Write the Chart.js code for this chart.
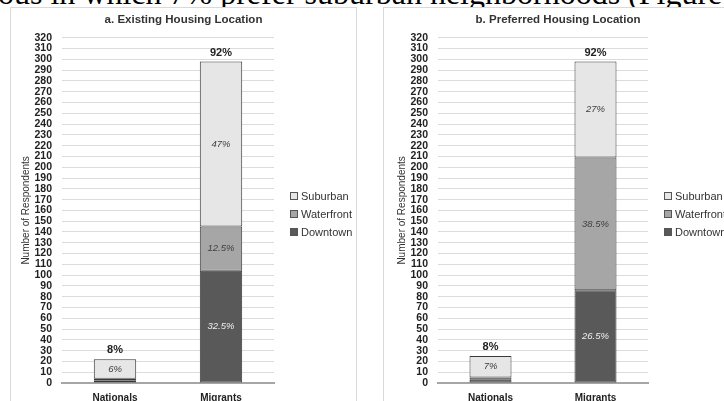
<!DOCTYPE html>
<html>
<head>
<meta charset="utf-8">
<script src="https://cdn.jsdelivr.net/npm/chart.js@4/dist/chart.umd.min.js"></script>
<style>
  html, body { margin: 0; padding: 0; background: #fff; width: 724px; height: 401px; overflow: hidden; position: relative; }
  .doctext { position: absolute; left: -2px; top: -23px; font-family: "Liberation Serif", "Times New Roman", serif; font-size: 32px; line-height: 32px; color: #000; white-space: nowrap; }
  .panel { position: absolute; top: 7px; height: 412px; border: 1px solid #d9d9d9; background: #fff; box-sizing: border-box; }
  .panel canvas { position: absolute; left: 0; top: 0; }
</style>
</head>
<body>
<div class="doctext">ous in which 7% prefer suburban neighborhoods (Figure</div>
<div class="panel" id="p1" style="left:10px; width:347px;"><canvas id="c1" width="345" height="403"></canvas></div>
<div class="panel" id="p2" style="left:383px; width:350px;"><canvas id="c2" width="348" height="403"></canvas></div>
<script>
// ---- data ----
const categories = ['Nationals', 'Migrants'];
const seriesNames = ['Downtown', 'Waterfront', 'Suburban'];
const seriesColors = ['#595959', '#a6a6a6', '#e6e6e6'];

const existingDowntown   = [2, 104];
const existingWaterfront = [2, 41];
const existingSuburban   = [18, 153];
const existingDowntownLabels   = ['', '32.5%'];
const existingWaterfrontLabels = ['', '12.5%'];
const existingSuburbanLabels   = ['6%', '47%'];
const existingTotalLabels      = ['8%', '92%'];

const preferredDowntown   = [3, 86];
const preferredWaterfront = [2, 123];
const preferredSuburban   = [20, 89];
const preferredDowntownLabels   = ['', '26.5%'];
const preferredWaterfrontLabels = ['', '38.5%'];
const preferredSuburbanLabels   = ['7%', '27%'];
const preferredTotalLabels      = ['8%', '92%'];

const yMin = 0, yMax = 320, yStep = 10;
const yAxisTitle = 'Number of Respondents';
const titleA = 'a. Existing Housing Location';
const titleB = 'b. Preferred Housing Location';

const FONT = '"Liberation Sans", Arial, sans-serif';

// ---- label + legend plugin ----
const labelPlugin = {
  id: 'segLabels',
  afterDatasetsDraw(chart, args, opts) {
    const ctx = chart.ctx;
    ctx.save();
    ctx.textAlign = 'center';
    ctx.textBaseline = 'middle';
    const nDs = chart.data.datasets.length;
    chart.data.datasets.forEach((ds, di) => {
      const meta = chart.getDatasetMeta(di);
      meta.data.forEach((bar, i) => {
        const lab = opts.inside[di][i];
        if (!lab) return;
        const p = bar.getProps(['x', 'y', 'base'], true);
        ctx.font = 'italic 9.5px ' + FONT;
        ctx.fillStyle = di === 0 ? '#f0f0f0' : '#404040';
        ctx.fillText(lab, p.x, (p.y + p.base) / 2);
      });
    });
    const topMeta = chart.getDatasetMeta(nDs - 1);
    topMeta.data.forEach((bar, i) => {
      const p = bar.getProps(['x', 'y'], true);
      ctx.font = 'bold 11px ' + FONT;
      ctx.fillStyle = '#222';
      ctx.fillText(opts.totals[i], p.x, p.y - 9);
    });
    // legend (reverse order: Suburban, Waterfront, Downtown)
    const area = chart.chartArea;
    const x0 = area.right + 16;
    const yc = (area.top + area.bottom) / 2 + 4;
    const dsets = chart.data.datasets.slice().reverse();
    ctx.textAlign = 'left';
    ctx.font = '11px ' + FONT;
    dsets.forEach((ds, k) => {
      const y = Math.round(yc + (k - 1) * 18);
      ctx.fillStyle = ds.backgroundColor;
      ctx.fillRect(x0, y - 4, 8, 8);
      ctx.strokeStyle = '#555';
      ctx.lineWidth = 1;
      ctx.strokeRect(x0 + 0.5, y - 3.5, 7, 7);
      ctx.fillStyle = '#333';
      ctx.fillText(ds.label, x0 + 11, y + 0.5);
    });
    ctx.restore();
  }
};

function makeChart(canvasId, title, series, inside, totals, leftW, titlePad, rightW) {
  const datasets = series.map((vals, k) => ({
    label: seriesNames[k],
    data: vals,
    backgroundColor: seriesColors[k],
    borderColor: '#3a3a3a',
    borderWidth: 1,
    borderSkipped: false,
    barPercentage: 0.4,
    categoryPercentage: 1.0
  }));
  return new Chart(document.getElementById(canvasId), {
    type: 'bar',
    data: { labels: categories, datasets },
    plugins: [labelPlugin],
    options: {
      responsive: false,
      animation: false,
      layout: { padding: { left: 0, right: 0, top: 0, bottom: 6 } },
      plugins: {
        title: {
          display: true, text: title, color: '#333',
          font: { family: FONT, size: 11.5, weight: 'bold' },
          padding: { top: 5, bottom: 11 }
        },
        legend: { display: false },
        tooltip: { enabled: false },
        segLabels: { inside, totals }
      },
      scales: {
        x: {
          stacked: true,
          grid: { display: false },
          border: { display: true, color: '#a6a6a6', width: 2 },
          ticks: { color: '#222', padding: 1, font: { family: FONT, size: 10, weight: 'bold' } }
        },
        y: {
          stacked: true, min: yMin, max: yMax,
          grid: { color: '#dcdcdc', drawTicks: false },
          border: { display: false },
          ticks: { stepSize: yStep, autoSkip: false, color: '#222', padding: 10,
                   font: { family: FONT, size: 10.5, weight: 'bold' } },
          title: { display: true, text: yAxisTitle, color: '#333', padding: { top: titlePad, bottom: 0 },
                   font: { family: FONT, size: 10, lineHeight: 1 } },
          afterFit(scale) { scale.width = leftW; }
        },
        legendSpace: {
          type: 'linear', position: 'right', display: true,
          grid: { display: false }, border: { display: false },
          ticks: { display: false },
          afterFit(scale) { scale.width = rightW; }
        }
      }
    }
  });
}

makeChart('c1', titleA,
  [existingDowntown, existingWaterfront, existingSuburban],
  [existingDowntownLabels, existingWaterfrontLabels, existingSuburbanLabels],
  existingTotalLabels, 51, 10, 82);
makeChart('c2', titleB,
  [preferredDowntown, preferredWaterfront, preferredSuburban],
  [preferredDowntownLabels, preferredWaterfrontLabels, preferredSuburbanLabels],
  preferredTotalLabels, 54, 13, 84);
</script>
</body>
</html>
